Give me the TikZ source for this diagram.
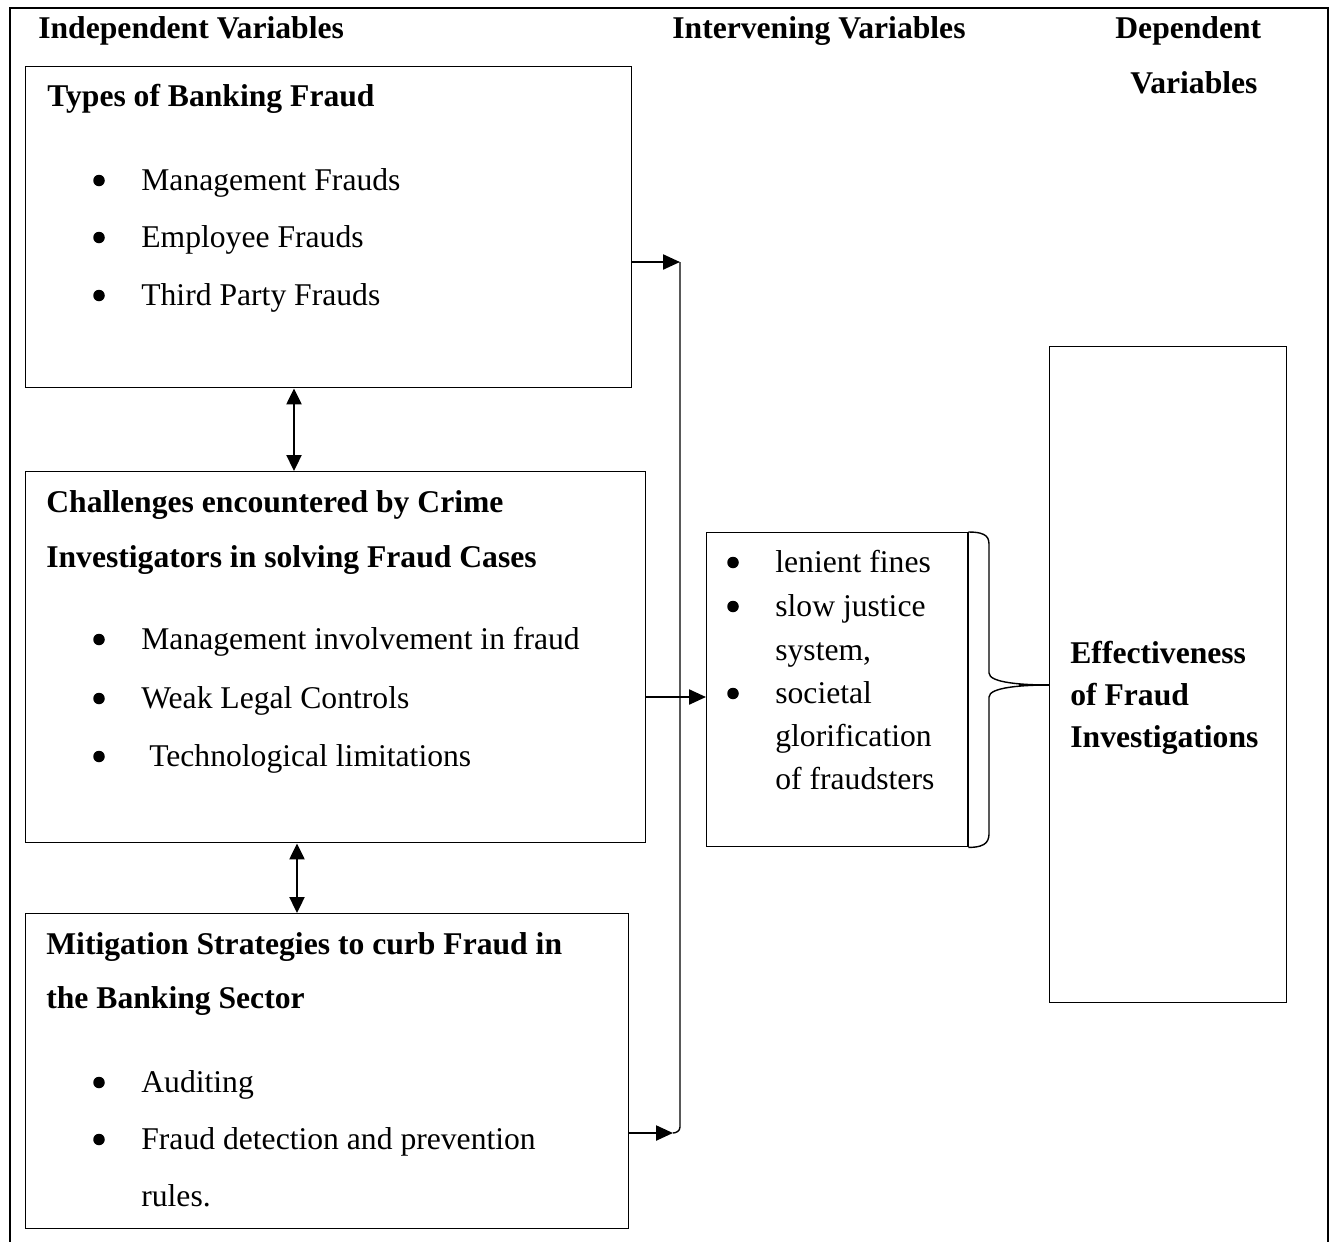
\documentclass[tikz,border=0pt]{standalone}
\usepackage{fontspec}
\setmainfont{Liberation Serif}
\usetikzlibrary{arrows.meta}

\tikzset{
  box/.style={draw, line width=0.8pt, anchor=north west, inner sep=0pt},
  txt/.style={anchor=base west, inner sep=0pt, font=\fontsize{18}{22}\selectfont},
  head/.style={txt, font=\fontsize{18}{22}\selectfont\bfseries},
  arr/.style={line width=1.3pt, -{Triangle[length=0.34cm,width=0.3cm]}},
  darr/.style={line width=1.3pt, {Triangle[length=0.32cm,width=0.3cm]}-{Triangle[length=0.32cm,width=0.3cm]}}
}

\begin{document}
\begin{tikzpicture}
            \useasboundingbox (0,0) rectangle (26.74,-24.82);
            \draw[line width=1.2pt] (0.2,-25) |- (26.56,-0.16) -- (26.56,-25);

            \node[head] (hind) at (0.76,-0.76) {Independent Variables};
            \node[head] (hint) at (13.44,-0.76) {Intervening Variables};
            \node[head] (hdep) at (22.3,-0.76) {Dependent};
            \node[head] (hdep2) at (22.6,-1.86) {Variables};

            \node[box, minimum width=12.12cm, minimum height=6.42cm] (types) at (0.5,-1.32) {};
            \node[head] (typesT) at (0.94,-2.12) {Types of Banking Fraud};
            \node[txt] (m1) at (2.82,-3.8) {Management Frauds};
            \node[txt] (m2) at (2.82,-4.94) {Employee Frauds};
            \node[txt] (m3) at (2.82,-6.1) {Third Party Frauds};

            \node[box, minimum width=12.4cm, minimum height=7.42cm] (chall) at (0.5,-9.42) {};
            \node[head] (challT) at (0.92,-10.24) {Challenges encountered by Crime};
            \node[head] (challT2) at (0.92,-11.34) {Investigators in solving Fraud Cases};
            \node[txt] (c1) at (2.82,-12.98) {Management involvement in fraud};
            \node[txt] (c2) at (2.82,-14.16) {Weak Legal Controls};
            \node[txt] (c3) at (2.82,-15.32) {\ Technological limitations};

            \node[box, minimum width=12.06cm, minimum height=6.3cm] (mitig) at (0.5,-18.26) {};
            \node[head] (mitigT) at (0.92,-19.08) {Mitigation Strategies to curb Fraud in};
            \node[head] (mitigT2) at (0.92,-20.16) {the Banking Sector};
            \node[txt] (s1) at (2.82,-21.84) {Auditing};
            \node[txt] (s2) at (2.82,-22.98) {Fraud detection and prevention};
            \node[txt] (s3) at (2.82,-24.12) {rules.};

            \node[box, minimum width=5.22cm, minimum height=6.28cm] (interv) at (14.12,-10.64) {};
            \node[txt] (i1) at (15.5,-11.44) {lenient fines};
            \node[txt] (i2) at (15.5,-12.32) {slow justice};
            \node[txt] (i3) at (15.5,-13.2) {system,};
            \node[txt] (i4) at (15.5,-14.06) {societal};
            \node[txt] (i5) at (15.5,-14.92) {glorification};
            \node[txt] (i6) at (15.5,-15.78) {of fraudsters};
            \draw[line width=1.2pt] (interv.north east) -- (interv.south east);

            \node[box, minimum width=4.74cm, minimum height=13.12cm] (dep) at (20.98,-6.92) {};
            \node[head] (d1) at (21.4,-13.26) {Effectiveness};
            \node[head] (d2) at (21.4,-14.1) {of Fraud};
            \node[head] (d3) at (21.4,-14.94) {Investigations};

            \foreach \n in {m1,m2,m3,c1,c2,c3,s1,s2,i1,i2,i4}
              \fill ([xshift=-0.84cm,yshift=0.19cm]\n.base west) circle (0.115cm);

            \coordinate (btop) at (13.6,-5.24);
            \coordinate (bbot) at (13.6,-22.66);
            \coordinate (mid) at (14.12,-13.94);
            \coordinate (tip) at (20.98,-13.7);
            \coordinate (ua) at (5.88,0);
            \coordinate (ub) at (5.94,0);

            \draw[line width=0.8pt] (btop) -- ([yshift=0.12cm]bbot) .. controls +(0,-0.08) and +(0.06,0) .. ([xshift=-0.14cm]bbot);
            \draw[arr] (types.east |- btop) -- (btop);
            \draw[arr] (mitig.east |- bbot) -- ([xshift=-0.14cm]bbot);
            \draw[arr] (chall.east |- mid) -- (mid);

            \draw[darr] (types.south -| ua) -- (chall.north -| ua);
            \draw[darr] (chall.south -| ub) -- (mitig.north -| ub);

            \draw[line width=0.8pt] (interv.north east) .. controls +(0.4,0) and +(0,0.15) .. (19.78,-10.92) -- (19.78,-13.46)
              .. controls +(0,-0.2) and +(-0.5,0) .. (tip);
            \draw[line width=0.8pt] (tip) .. controls +(-0.5,0) and +(0,0.2) .. (19.78,-13.94) -- (19.78,-16.64)
              .. controls +(0,-0.15) and +(0.4,0) .. (interv.south east);
            \draw[line width=1.2pt] (tip) -- ++(-0.6,0);
\end{tikzpicture}
\end{document}
